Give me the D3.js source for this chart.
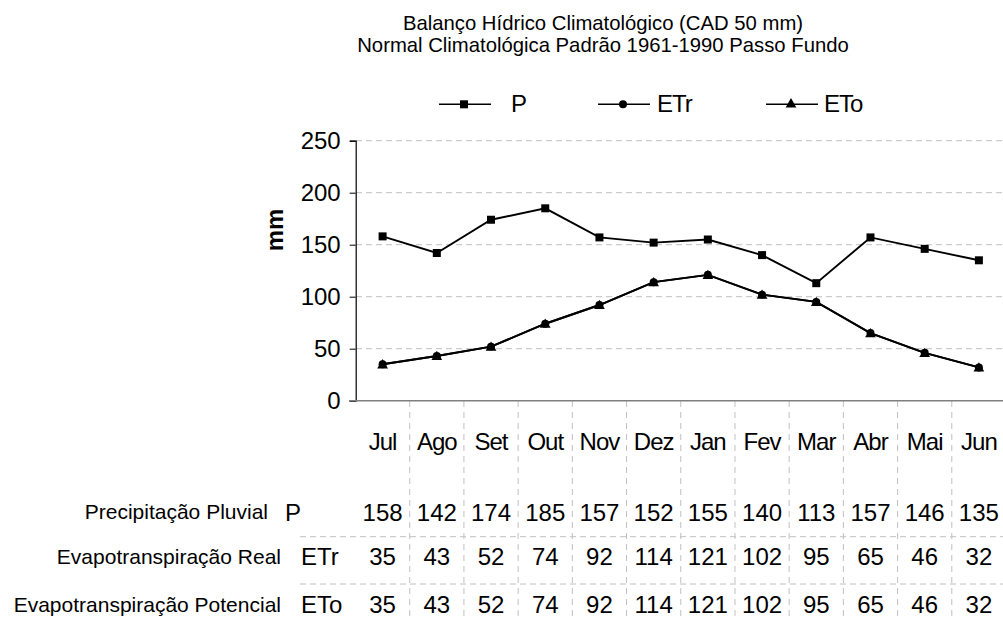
<!DOCTYPE html>
<html>
<head>
<meta charset="utf-8">
<script src="https://d3js.org/d3.v7.min.js"></script>
<style>
  body { margin: 0; background: #fff; }
  svg text { font-family: "Liberation Sans", Arial, sans-serif; fill: #000; }
</style>
</head>
<body>
<div id="chart"></div>
<script>
// data
const months = ["Jul", "Ago", "Set", "Out", "Nov", "Dez", "Jan", "Fev", "Mar", "Abr", "Mai", "Jun"];
const precip = [158, 142, 174, 185, 157, 152, 155, 140, 113, 157, 146, 135];
const etr = [35, 43, 52, 74, 92, 114, 121, 102, 95, 65, 46, 32];
const eto = [35, 43, 52, 74, 92, 114, 121, 102, 95, 65, 46, 32];
const yTicks = [0, 50, 100, 150, 200, 250];
const seriesCodes = ["P", "ETr", "ETo"];
const seriesNames = ["Precipitação Pluvial", "Evapotranspiração Real", "Evapotranspiração Potencial"];
const titleLines = ["Balanço Hídrico Climatológico (CAD 50 mm)", "Normal Climatológica Padrão 1961-1990 Passo Fundo"];

const W = 1003, H = 619;
const svg = d3.select("#chart").append("svg")
    .attr("width", W)
    .attr("height", H);

const x = d3.scaleBand().domain(months).range([355.5, 1006]).padding(0);
const y = d3.scaleLinear().domain([0, 250]).range([400.7, 140.7]);
const cx = m => x(m) + x.bandwidth() / 2;

// title
svg.append("g").selectAll("text")
    .data(titleLines)
    .join("text")
    .attr("x", 603)
    .attr("y", (d, i) => 30 + i * 21.5)
    .attr("text-anchor", "middle")
    .style("font-size", "20.3px")
    .text(d => d);

// gridlines
svg.append("g").selectAll("line")
    .data(yTicks.filter(d => d > 0))
    .join("line")
    .attr("x1", 356).attr("x2", W)
    .attr("y1", d => y(d)).attr("y2", d => y(d))
    .attr("stroke", "#c0c0c0")
    .attr("stroke-dasharray", "6,4");

// y axis
const yAxis = svg.append("g")
    .attr("transform", "translate(355.7,0)")
    .call(d3.axisLeft(y).tickValues(yTicks).tickSize(6).tickPadding(9));
yAxis.select(".domain").attr("stroke", "#000").attr("stroke-width", 1.2);
yAxis.selectAll(".tick line").attr("stroke", "#000");
yAxis.selectAll(".tick text")
    .style("font-size", "24px")
    .style("font-family", "'Liberation Sans', Arial, sans-serif")
    .attr("dy", "0.34em");

svg.append("text")
    .attr("transform", "translate(283,230) rotate(-90)")
    .attr("text-anchor", "middle")
    .style("font-size", "24px")
    .style("font-weight", "bold")
    .text("mm");

// table dividers
const bounds = months.slice(1).map(m => x(m));
svg.append("g").selectAll("line")
    .data(bounds)
    .join("line")
    .attr("x1", d => d).attr("x2", d => d)
    .attr("y1", 401).attr("y2", H)
    .attr("stroke", "#c0c0c0")
    .attr("stroke-dasharray", "6,5");

svg.append("g").selectAll("line")
    .data([536.7, 584])
    .join("line")
    .attr("x1", 300).attr("x2", W)
    .attr("y1", d => d).attr("y2", d => d)
    .attr("stroke", "#c0c0c0")
    .attr("stroke-dasharray", "6,4");

// x axis line
svg.append("line")
    .attr("x1", 349).attr("x2", W)
    .attr("y1", 400.7).attr("y2", 400.7)
    .attr("stroke", "#808080")
    .attr("stroke-width", 1.5);

// month labels
svg.append("g").selectAll("text")
    .data(months)
    .join("text")
    .attr("x", d => cx(d))
    .attr("y", 450)
    .attr("text-anchor", "middle")
    .style("font-size", "24px")
    .style("letter-spacing", "-1px")
    .text(d => d);

// table rows
const rows = [precip, etr, eto];
const rowY = [520.7, 565, 613.3];
const codeX = [285, 301, 301];
const nameX = [268, 281, 281];
rows.forEach((vals, r) => {
    svg.append("g").selectAll("text")
        .data(vals)
        .join("text")
        .attr("x", (d, i) => cx(months[i]))
        .attr("y", rowY[r])
        .attr("text-anchor", "middle")
        .style("font-size", "24px")
        .text(d => d);
    svg.append("text")
        .attr("x", codeX[r])
        .attr("y", rowY[r])
        .style("font-size", "24px")
        .text(seriesCodes[r]);
    svg.append("text")
        .attr("x", nameX[r])
        .attr("y", rowY[r] - 1.5)
        .attr("text-anchor", "end")
        .style("font-size", "21px")
        .text(seriesNames[r]);
});

// lines
const line = d3.line()
    .x((d, i) => cx(months[i]))
    .y(d => y(d));

const symbols = [d3.symbolSquare, d3.symbolCircle, d3.symbolTriangle];
const symSize = [64, 50, 50];

rows.forEach((vals, r) => {
    svg.append("path")
        .datum(vals)
        .attr("fill", "none")
        .attr("stroke", "#000")
        .attr("stroke-width", 1.9)
        .attr("d", line);
    svg.append("g").selectAll("path")
        .data(vals)
        .join("path")
        .attr("transform", (d, i) => `translate(${cx(months[i])},${y(d) + (r === 2 ? 1 : 0)})`)
        .attr("d", d3.symbol().type(symbols[r]).size(symSize[r]))
        .attr("fill", "#000");
});

// legend
const legX = [439, 598, 766];
const legTextX = [511, 657, 824];
seriesCodes.forEach((c, r) => {
    const g = svg.append("g");
    g.append("line")
        .attr("x1", legX[r]).attr("x2", legX[r] + 52)
        .attr("y1", 104.3).attr("y2", 104.3)
        .attr("stroke", "#000")
        .attr("stroke-width", 1.5);
    g.append("path")
        .attr("transform", `translate(${legX[r] + 25},${104.3})`)
        .attr("d", d3.symbol().type(symbols[r]).size(symSize[r]))
        .attr("fill", "#000");
    g.append("text")
        .attr("x", legTextX[r])
        .attr("y", 112.3)
        .style("font-size", "24px")
        .style("letter-spacing", "-1px")
        .text(c);
});
</script>
</body>
</html>
